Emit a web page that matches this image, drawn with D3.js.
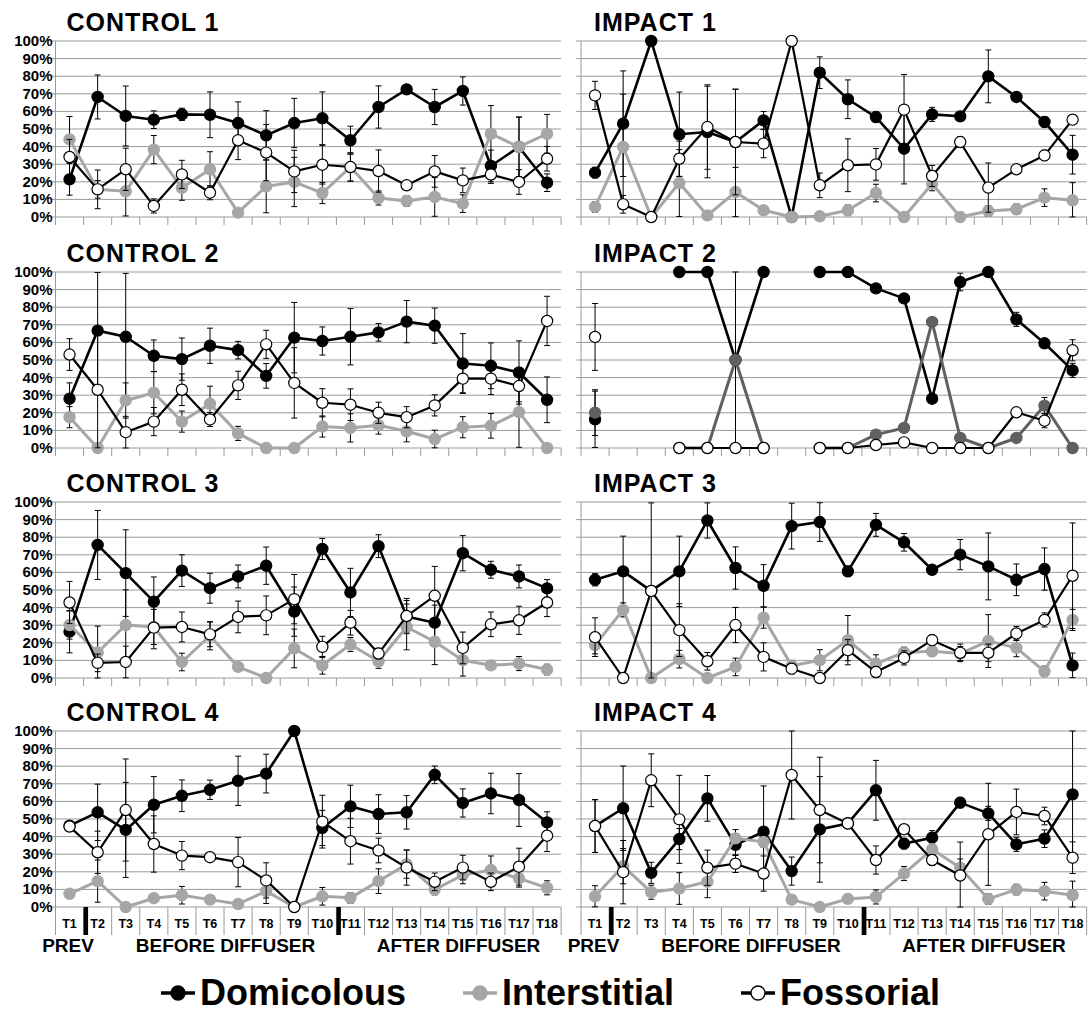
<!DOCTYPE html>
<html>
<head>
<meta charset="utf-8">
<script src="https://cdn.jsdelivr.net/npm/d3@7"></script>
<style>
  body { margin: 0; background: #fff; }
  svg text { font-family: "Liberation Sans", Arial, sans-serif; font-weight: bold; fill: #000; }
</style>
</head>
<body>
<svg id="chart" width="1090" height="1012"></svg>
<script>
// Sampling times and axis ticks
const timepoints = ['T1','T2','T3','T4','T5','T6','T7','T8','T9','T10','T11','T12','T13','T14','T15','T16','T17','T18'];
const yTicks = [0, 10, 20, 30, 40, 50, 60, 70, 80, 90, 100];
const groupLabels = ['PREV', 'BEFORE DIFFUSER', 'AFTER DIFFUSER'];
const seriesNames = ['Domicolous', 'Interstitial', 'Fossorial'];

// CONTROL 1
const c1Dom    = [21.4, 68.2, 57.4, 55.3, 58.3, 58.1, 53.4, 46.4, 53.4, 56.1, 43.6, 62.5, 72.5, 62.5, 71.6, 29.0, 39.8, 19.5];
const c1DomErr = [9, 12.5, 17, 5, 3.5, 13, 12, 14, 14, 15, 8, 12, 2, 10, 8, 9, 17, 5];
const c1Int    = [44.1, 15.7, 14.6, 38.3, 16.5, 27.1, 2.5, 17.4, 19.9, 13.6, 28.4, 10.8, 9.1, 11.4, 7.6, 47.3, 39.8, 47.3];
const c1IntErr = [13, 5, 14, 8, 7, 10, 2, 15, 14, 6, 8, 4, 3, 11, 5, 16, 17, 11];
const c1Fos    = [34.1, 15.7, 27.1, 6.3, 24.2, 13.8, 43.6, 36.6, 25.9, 29.7, 28.4, 26.1, 18.0, 25.9, 20.8, 24.1, 19.9, 33.1];
const c1FosErr = [10, 11, 12, 4, 8, 4, 11, 16, 12, 11, 8, 12, 2, 9, 7, 5, 7, 7];

// IMPACT 1
const i1Dom    = [25.2, 53.0, 100, 47.0, 48.3, 42.6, 54.9, 0, 82.0, 66.9, 56.8, 38.8, 58.3, 57.2, 79.9, 68.2, 54.0, 35.4];
const i1DomErr = [3, 30, 0, 24, 26, 30, 5, 0, 9, 11, 3, 20, 4, 2, 15, 2, 3, 11];
const i1Int    = [5.7, 39.8, 0, 19.3, 0.9, 14.2, 3.8, 0, 0.4, 3.8, 13.6, 0, 18.9, 0, 3.4, 4.4, 11.0, 9.5];
const i1IntErr = [3, 30, 0, 19, 0, 14, 2, 0, 0, 3, 5, 0, 4, 0, 3, 3, 5, 10];
const i1Fos    = [69.1, 7.2, 0, 33.1, 51.1, 42.6, 41.7, 100, 18.0, 29.4, 29.9, 61.0, 23.3, 42.6, 16.7, 27.1, 35.0, 55.3];
const i1FosErr = [8, 5, 0, 10, 24, 30, 8, 0, 7, 15, 9, 20, 6, 3, 14, 2, 3, 2];

// CONTROL 2
const c2Dom    = [28.0, 66.7, 63.2, 52.4, 50.5, 58.1, 55.6, 41.0, 62.7, 60.8, 63.2, 65.7, 71.8, 69.5, 48.0, 46.7, 42.9, 27.4];
const c2DomErr = [9, 33, 36, 9, 12, 10, 5, 7, 20, 8, 16, 5, 12, 10, 17, 13, 18, 13];
const c2Int    = [17.5, 0, 27.0, 31.4, 15.0, 25.1, 8.3, 0, 0, 12.2, 11.4, 12.9, 9.5, 5.1, 11.8, 12.6, 20.4, 0];
const c2IntErr = [6, 0, 10, 12, 6, 10, 4, 0, 0, 6, 8, 5, 6, 5, 6, 7, 20, 0];
const c2Fos    = [53.1, 33.1, 9.0, 15.0, 33.1, 16.2, 35.6, 58.9, 37.0, 25.7, 24.6, 20.0, 17.5, 24.2, 39.4, 39.4, 35.2, 72.2];
const c2FosErr = [9, 33, 9, 8, 9, 4, 8, 8, 20, 8, 9, 6, 6, 6, 8, 9, 9, 14];

// IMPACT 2 (no samples at T2, T3, T8)
const i2Dom    = [16.3, null, null, 100, 100, 50, 100, null, 100, 100, 90.7, 85.0, 28.0, 94.3, 100, 73.1, 59.5, 44.1];
const i2DomErr = [16, 0, 0, 0, 0, 50, 0, 0, 0, 0, 0, 0, 0, 5, 0, 4, 0, 4];
const i2Int    = [20.1, null, null, 0, 0, 50, 0, null, 0, 0, 7.6, 11.4, 71.6, 5.7, 0, 5.7, 24.1, 0];
const i2IntErr = [13, 0, 0, 0, 0, 0, 0, 0, 0, 0, 0, 0, 0, 2.5, 0, 0, 4.6, 0];
const i2Fos    = [63.1, null, null, 0, 0, 0, 0, null, 0, 0, 1.7, 3.2, 0, 0, 0, 20.3, 15.5, 55.5];
const i2FosErr = [19, 0, 0, 0, 0, 0, 0, 0, 0, 0, 0, 0, 0, 0, 0, 1.5, 4, 6];

// CONTROL 3
const c3Dom    = [26.3, 75.6, 59.6, 43.4, 61.0, 51.0, 57.7, 63.8, 37.7, 73.3, 48.6, 74.9, 35.0, 31.4, 70.9, 61.5, 57.7, 50.9];
const c3DomErr = [12, 19.6, 24.6, 14, 9, 8.5, 6.5, 10.6, 14, 6, 13.7, 6.5, 9, 10, 10, 4.8, 6.5, 5];
const c3Int    = [30.1, 14.5, 30.1, 29.0, 9.1, 24.0, 6.3, 0, 16.8, 7.2, 19.0, 9.5, 29.0, 20.6, 10.1, 7.2, 8.2, 4.8];
const c3IntErr = [8, 15, 20, 10, 5, 8, 2, 0, 11, 5, 4, 4, 13, 13, 9, 2, 4, 3];
const c3Fos    = [42.9, 8.6, 9.1, 28.6, 29.0, 24.8, 34.7, 35.6, 44.8, 17.7, 31.4, 13.9, 35.2, 46.7, 17.1, 30.5, 32.8, 42.9];
const c3FosErr = [12, 5, 9, 12, 8.5, 7, 9, 11, 14, 6, 7, 3, 10, 16.7, 9, 7, 8, 8];

// IMPACT 3
const i3Dom    = [55.8, 60.6, 49.5, 60.6, 89.5, 62.5, 52.4, 86.3, 88.6, 60.6, 87.0, 77.1, 61.5, 70.1, 63.4, 55.8, 61.9, 7.2];
const i3DomErr = [3.5, 20, 0, 20, 10, 12, 12, 13, 11, 3, 6.5, 5, 2, 8.6, 19, 9, 12, 7];
const i3Int    = [18.7, 38.7, 0, 10.7, 0, 6.3, 34.3, 7.0, 10.1, 21.5, 8.2, 14.5, 15.2, 13.9, 21.0, 17.1, 3.8, 33.0];
const i3IntErr = [5, 4, 0, 5, 0, 5, 6, 3, 6, 14, 5, 3, 3, 4, 15, 5, 3, 6];
const i3Fos    = [23.2, 0, 49.5, 27.2, 9.5, 30.1, 12.0, 5.3, 0, 15.8, 3.4, 11.4, 21.5, 14.3, 14.3, 25.3, 33.0, 58.1];
const i3FosErr = [11, 0, 50, 15, 5, 10, 8, 3, 0, 6, 3, 4, 3, 5, 5, 4, 4, 30];

// CONTROL 4
const c4Dom    = [46.2, 53.8, 43.8, 58.1, 63.2, 66.6, 71.7, 75.8, 100, 44.9, 57.2, 52.8, 53.8, 75.1, 59.1, 64.5, 60.8, 48.1];
const c4DomErr = [2, 16, 27, 16, 9, 5.5, 14, 11, 0, 10, 12, 11, 9.5, 5, 8, 11.5, 15, 6];
const c4Int    = [7.5, 14.7, 0, 5.0, 6.7, 4.2, 1.7, 9.0, 0, 6.1, 5.2, 14.7, 24.3, 9.9, 18.2, 21.0, 16.3, 10.9];
const c4IntErr = [2, 12, 0, 2, 5, 2, 2, 7, 0, 5, 3, 7, 8, 3, 5, 8, 5, 4];
const c4Fos    = [45.7, 31.1, 55.1, 35.8, 29.2, 28.3, 25.5, 15.1, 0, 48.5, 37.4, 32.1, 22.4, 14.3, 22.4, 14.3, 22.9, 40.5];
const c4FosErr = [2, 12, 29, 16, 8, 2.5, 14, 10, 0, 15, 13, 7, 10, 5, 7, 5, 10.5, 9];

// IMPACT 4
const i4Dom    = [46.0, 56.1, 19.4, 38.6, 61.7, 35.3, 42.8, 20.4, 44.1, 47.5, 66.3, 36.0, 39.4, 59.3, 53.2, 35.6, 38.8, 64.0];
const i4DomErr = [15, 24, 6, 6, 13, 6, 26, 8, 30, 3, 17, 3, 4, 3, 4, 4, 5, 36];
const i4Int    = [6.1, 23.2, 8.4, 10.5, 14.3, 39.0, 37.0, 4.2, 0, 4.6, 5.7, 19.0, 32.8, 22.3, 4.6, 9.9, 9.0, 6.7];
const i4IntErr = [6, 10, 4, 9, 9, 5, 3, 2, 0, 2, 4, 4, 3, 5, 3, 3, 5, 8];
const i4Fos    = [46.0, 19.8, 72.0, 49.8, 22.3, 24.6, 19.0, 75.0, 55.1, 47.5, 26.7, 44.2, 26.7, 17.9, 41.3, 54.0, 51.7, 28.0];
const i4FosErr = [15, 18, 15, 25, 10, 5, 10, 25, 30, 2, 8, 2, 3, 19, 29, 13, 5, 9];

// Layout
const svg = d3.select('#chart');
const colLeft = [55.5, 581];
const rowTop = [41, 272, 502, 731];
const plotH = 176;
const step = 28.09;
const gridColor = '#9a9a9a';
const lightGray = '#a6a6a6';
const darkGray = '#606060';

const panels = [
    {title: 'CONTROL 1', col: 0, row: 0, dom: [c1Dom, c1DomErr], int: [c1Int, c1IntErr], fos: [c1Fos, c1FosErr]},
    {title: 'IMPACT 1',  col: 1, row: 0, dom: [i1Dom, i1DomErr], int: [i1Int, i1IntErr], fos: [i1Fos, i1FosErr]},
    {title: 'CONTROL 2', col: 0, row: 1, dom: [c2Dom, c2DomErr], int: [c2Int, c2IntErr], fos: [c2Fos, c2FosErr]},
    {title: 'IMPACT 2',  col: 1, row: 1, dom: [i2Dom, i2DomErr], int: [i2Int, i2IntErr], fos: [i2Fos, i2FosErr], intColor: darkGray},
    {title: 'CONTROL 3', col: 0, row: 2, dom: [c3Dom, c3DomErr], int: [c3Int, c3IntErr], fos: [c3Fos, c3FosErr]},
    {title: 'IMPACT 3',  col: 1, row: 2, dom: [i3Dom, i3DomErr], int: [i3Int, i3IntErr], fos: [i3Fos, i3FosErr]},
    {title: 'CONTROL 4', col: 0, row: 3, dom: [c4Dom, c4DomErr], int: [c4Int, c4IntErr], fos: [c4Fos, c4FosErr]},
    {title: 'IMPACT 4',  col: 1, row: 3, dom: [i4Dom, i4DomErr], int: [i4Int, i4IntErr], fos: [i4Fos, i4FosErr]}
];

function drawSeries(g, x, y, vals, errs, lineColor, lineWidth, fill, stroke) {
    const pts = timepoints.map((t, i) => ({t: t, v: vals[i], e: errs[i] || 0}));
    const cx = d => x(d.t) + x.bandwidth() / 2;

    // Error bars
    const eb = g.append('g').attr('stroke', '#000').attr('stroke-width', 1);
    pts.filter(d => d.v != null && d.e > 0).forEach(d => {
        const hi = y(Math.min(100, d.v + d.e));
        const lo = y(Math.max(0, d.v - d.e));
        eb.append('line').attr('x1', cx(d)).attr('x2', cx(d)).attr('y1', hi).attr('y2', lo);
        eb.append('line').attr('x1', cx(d) - 3).attr('x2', cx(d) + 3).attr('y1', hi).attr('y2', hi);
        eb.append('line').attr('x1', cx(d) - 3).attr('x2', cx(d) + 3).attr('y1', lo).attr('y2', lo);
    });

    const line = d3.line()
        .defined(d => d.v != null)
        .x(cx)
        .y(d => y(d.v));

    g.append('path')
        .datum(pts)
        .attr('fill', 'none')
        .attr('stroke', lineColor)
        .attr('stroke-width', lineWidth)
        .attr('stroke-linejoin', 'round')
        .attr('d', line);

    g.selectAll(null)
        .data(pts.filter(d => d.v != null))
        .enter()
        .append('circle')
        .attr('cx', cx)
        .attr('cy', d => y(d.v))
        .attr('r', 5.6)
        .attr('fill', fill)
        .attr('stroke', stroke)
        .attr('stroke-width', 1.2);
}

panels.forEach(p => {
    const left = colLeft[p.col];
    const top = rowTop[p.row];
    const bottom = top + plotH;
    const isBottom = p.row === 3;

    const x = d3.scaleBand().domain(timepoints).range([left, left + step * timepoints.length]).padding(0);
    const y = d3.scaleLinear().domain([0, 100]).range([bottom, top]);
    const right = x.range()[1];

    const g = svg.append('g');

    // Title
    g.append('text')
        .attr('x', left + (p.col === 0 ? 11 : 13))
        .attr('y', top - 10)
        .attr('font-size', 25)
        .attr('letter-spacing', 1)
        .text(p.title);

    // Gridlines
    g.selectAll(null)
        .data(yTicks)
        .enter()
        .append('line')
        .attr('x1', left - 5)
        .attr('x2', right)
        .attr('y1', d => y(d))
        .attr('y2', d => y(d))
        .attr('stroke', gridColor)
        .attr('stroke-width', 1);

    // Left axis line
    g.append('line')
        .attr('x1', left).attr('x2', left)
        .attr('y1', top).attr('y2', bottom)
        .attr('stroke', gridColor);

    // Category ticks between timepoints
    const bounds = d3.range(timepoints.length + 1).map(i => left + i * x.step());
    g.selectAll(null)
        .data(bounds)
        .enter()
        .append('line')
        .attr('x1', d => d).attr('x2', d => d)
        .attr('y1', bottom)
        .attr('y2', bottom + (isBottom ? 28 : 8))
        .attr('stroke', gridColor);

    // Y labels on control panels only
    if (p.col === 0) {
        g.selectAll(null)
            .data(yTicks)
            .enter()
            .append('text')
            .attr('x', left - 3)
            .attr('y', d => y(d) + 5)
            .attr('text-anchor', 'end')
            .attr('font-size', 15)
            .text(d => d + '%');
    }

    // Time labels, period separators and period names under the bottom row
    if (isBottom) {
        g.selectAll(null)
            .data(timepoints)
            .enter()
            .append('text')
            .attr('x', d => x(d) + x.bandwidth() / 2)
            .attr('y', bottom + 21)
            .attr('text-anchor', 'middle')
            .attr('font-size', 12.5)
            .text(d => d);

        [1, 10].forEach(i => {
            g.append('rect')
                .attr('x', bounds[i])
                .attr('y', bottom)
                .attr('width', 4.5)
                .attr('height', 28)
                .attr('fill', '#000');
        });

        const groupPos = [12.5, 170, 403];
        groupLabels.forEach((lab, i) => {
            g.append('text')
                .attr('x', left + groupPos[i])
                .attr('y', bottom + 45)
                .attr('text-anchor', 'middle')
                .attr('font-size', 19)
                .text(lab);
        });
    }

    const intColor = p.intColor || lightGray;
    drawSeries(g, x, y, p.dom[0], p.dom[1], '#000', 2.6, '#000', '#000');
    drawSeries(g, x, y, p.int[0], p.int[1], intColor, 3, intColor, intColor);
    drawSeries(g, x, y, p.fos[0], p.fos[1], '#000', 2.2, '#fff', '#000');
});

// Legend
const legendStart = [161, 463, 741];
const legendStyle = [
    {line: '#000', fill: '#000', stroke: '#000'},
    {line: lightGray, fill: lightGray, stroke: lightGray},
    {line: '#000', fill: '#fff', stroke: '#000'}
];
const legend = svg.append('g');
seriesNames.forEach((name, i) => {
    const x0 = legendStart[i];
    const st = legendStyle[i];
    legend.append('line')
        .attr('x1', x0).attr('x2', x0 + 34)
        .attr('y1', 993).attr('y2', 993)
        .attr('stroke', st.line)
        .attr('stroke-width', 3.5);
    legend.append('circle')
        .attr('cx', x0 + 17).attr('cy', 993)
        .attr('r', 7)
        .attr('fill', st.fill)
        .attr('stroke', st.stroke)
        .attr('stroke-width', 1.3);
    legend.append('text')
        .attr('x', x0 + 39)
        .attr('y', 1005)
        .attr('font-size', 36)
        .text(name);
});
</script>
</body>
</html>
